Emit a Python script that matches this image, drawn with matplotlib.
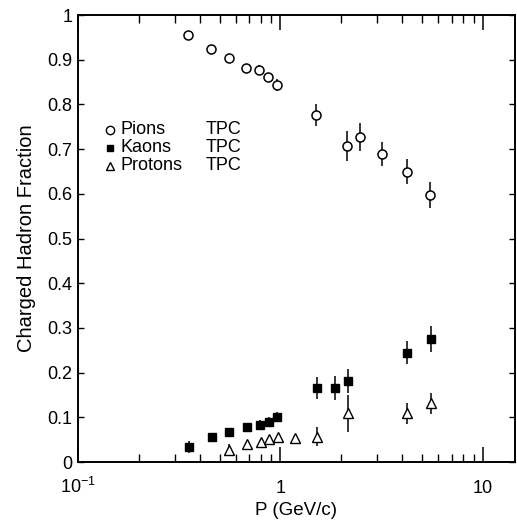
import numpy as np
import matplotlib
matplotlib.use("Agg")
import matplotlib.pyplot as plt
from matplotlib.ticker import FixedLocator, FixedFormatter, LogLocator, NullFormatter

plt.rcParams['font.family'] = ['Liberation Sans', 'DejaVu Sans']
plt.rcParams['mathtext.fontset'] = 'custom'
plt.rcParams['mathtext.rm'] = 'Liberation Sans'
plt.rcParams['mathtext.it'] = 'Liberation Sans'

# Pions (TPC)
pion_p = [0.350, 0.455, 0.555, 0.676, 0.780, 0.865, 0.958, 1.49, 2.13, 2.47, 3.17, 4.22, 5.49]
pion_f = [0.955, 0.925, 0.903, 0.881, 0.878, 0.861, 0.843, 0.776, 0.707, 0.727, 0.690, 0.650, 0.598]
pion_err = [0.007, 0.004, 0.004, 0.004, 0.010, 0.008, 0.013, 0.025, 0.034, 0.032, 0.027, 0.027, 0.029]

# Kaons (TPC)
kaon_p = [0.355, 0.459, 0.558, 0.681, 0.793, 0.875, 0.962, 1.51, 1.85, 2.15, 4.22, 5.53]
kaon_f = [0.033, 0.056, 0.067, 0.078, 0.083, 0.090, 0.101, 0.165, 0.165, 0.181, 0.245, 0.276]
kaon_err = [0.013, 0.005, 0.007, 0.005, 0.010, 0.010, 0.012, 0.025, 0.027, 0.027, 0.026, 0.029]

# Protons (TPC)
prot_p = [0.558, 0.681, 0.80, 0.88, 0.97, 1.18, 1.52, 2.15, 4.22, 5.53]
prot_f = [0.027, 0.040, 0.044, 0.051, 0.057, 0.053, 0.057, 0.109, 0.109, 0.131]
prot_err = [0.013, 0.005, 0.005, 0.005, 0.005, 0.004, 0.021, 0.041, 0.024, 0.024]

y_ticks = [0, 0.1, 0.2, 0.3, 0.4, 0.5, 0.6, 0.7, 0.8, 0.9, 1.0]
y_labels = ['0', '0.1', '0.2', '0.3', '0.4', '0.5', '0.6', '0.7', '0.8', '0.9', '1']
x_ticks = [0.1, 1, 10]
x_labels = ['10$^{-1}$', '1', '10']

fig = plt.figure(figsize=(5.17, 5.20), dpi=100)
ax = fig.add_axes([0.151, 0.1115, 0.845, 0.8595])

ekw = dict(linestyle='none', ecolor='black', elinewidth=1.1, capsize=0)
ax.errorbar(pion_p, pion_f, yerr=pion_err, marker='o', ms=6.5, mfc='white',
            mec='black', mew=1.1, **ekw)
ax.errorbar(kaon_p, kaon_f, yerr=kaon_err, marker='s', ms=5.5, mfc='black',
            mec='black', mew=1.0, **ekw)
ax.errorbar(prot_p, prot_f, yerr=prot_err, marker='^', ms=7.5, mfc='white',
            mec='black', mew=1.0, **ekw)

ax.set_xscale('log')
ax.set_xlim(0.1, 14.4)
ax.set_ylim(0, 1)

ax.yaxis.set_major_locator(FixedLocator(y_ticks))
ax.yaxis.set_major_formatter(FixedFormatter(y_labels))
ax.xaxis.set_major_locator(FixedLocator(x_ticks))
ax.xaxis.set_major_formatter(FixedFormatter(x_labels))
ax.xaxis.set_minor_locator(LogLocator(base=10, subs=np.arange(2, 10)))
ax.xaxis.set_minor_formatter(NullFormatter())

ax.tick_params(axis='x', which='major', direction='in', top=True, length=11,
               width=1.1, labelsize=13, pad=22)
ax.tick_params(axis='x', which='minor', direction='in', top=True, length=6, width=1.0)
ax.tick_params(axis='y', which='major', direction='in', right=True, length=4.5,
               width=1.0, labelsize=13, pad=4)
for lab in ax.get_xticklabels():
    lab.set_va('baseline')

for s in ax.spines.values():
    s.set_linewidth(1.4)

ax.set_xlabel('P (GeV/c)', fontsize=13.5, labelpad=4)
ax.set_ylabel('Charged Hadron Fraction', fontsize=14.5, labelpad=8)

# legend drawn by hand
leg_rows = [('o', 'white', 6.0, 'Pions'), ('s', 'black', 4.5, 'Kaons'), ('^', 'white', 6.0, 'Protons')]
for i, (m, fc, ms, name) in enumerate(leg_rows):
    yy = 0.743 - 0.040 * i
    ax.plot([0.072], [yy], marker=m, ms=ms, mfc=fc, mec='black', mew=1.0,
            transform=ax.transAxes, linestyle='none')
    ax.text(0.097, yy, name, transform=ax.transAxes, fontsize=13, va='center')
    ax.text(0.292, yy, 'TPC', transform=ax.transAxes, fontsize=13, va='center')

fig.savefig('out.png', dpi=100)
